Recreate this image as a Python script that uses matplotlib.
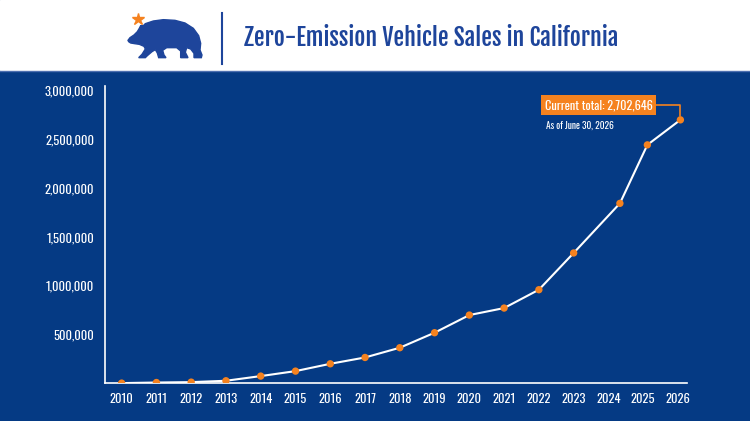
import matplotlib
matplotlib.use('Agg')
import matplotlib.pyplot as plt
from matplotlib.patches import Polygon, Rectangle
from matplotlib.ticker import FuncFormatter

# cumulative ZEV sales
years = [2010, 2011, 2012, 2013, 2014, 2015, 2016, 2017, 2018,
         2019, 2020, 2021, 2022, 2023, 2024, 2025, 2026]
# the last few points sit a bit right of their year label
point_x = [2010, 2011, 2012, 2013, 2014, 2015, 2016, 2017, 2018,
           2019, 2020, 2021, 2022, 2023, 2024.33, 2025.12, 2026.07]
sales = [2000, 8000, 12000, 26000, 74000, 125000, 200000, 265000, 365000,
         519000, 700000, 772000, 960000, 1337000, 1846000, 2446000, 2702646]
y_ticks = [500000, 1000000, 1500000, 2000000, 2500000, 3000000]

title = 'Zero-Emission Vehicle Sales in California'
callout = 'Current total: 2,702,646'
as_of = 'As of June 30, 2026'

navy = '#053a84'
blue = '#1e459b'
orange = '#f5821f'
font = ['Oswald', 'Fira Sans Extra Condensed', 'DejaVu Sans']
title_font = ['Fjalla One', 'Oswald', 'DejaVu Sans']

W, H = 750, 421
fig = plt.figure(figsize=(7.5, 4.21), dpi=100, facecolor=navy)

# white header band
hdr = fig.add_axes([0, 0, 1, 1])
hdr.set_xlim(0, W)
hdr.set_ylim(H, 0)
hdr.axis('off')
hdr.add_patch(Rectangle((0, 0), W, 70, color='white'))
hdr.plot([0, W], [70.5, 70.5], color='#4d6fb0', lw=1)
hdr.plot([222, 222], [13, 64], color=blue, lw=1.5)

# bear silhouette (coords traced on a 3x zoom of the logo)
bear_z = [(24, 106), (30, 98), (42, 90), (52, 80), (58, 70), (62, 62), (70, 62),
          (76, 56), (100, 48), (130, 44), (165, 46), (195, 54), (220, 70), (236, 92),
          (242, 115), (240, 135), (246, 150), (244, 158), (222, 158), (222, 145),
          (212, 132), (200, 128), (196, 142), (204, 158), (182, 158), (182, 138),
          (170, 128), (140, 128), (128, 136), (132, 150), (138, 158), (116, 158),
          (112, 144), (106, 134), (96, 140), (82, 152), (76, 158), (56, 158),
          (66, 148), (76, 132), (72, 124), (58, 118), (44, 116), (32, 114), (26, 110)]
bear = [(120 + zx / 3, 5 + zy / 3) for zx, zy in bear_z]
hdr.add_patch(Polygon(bear, closed=True, color=blue))
hdr.plot(137.7, 19, marker='*', color=orange, markersize=9)

hdr.text(244, 38, title, fontsize=17.2, family=title_font,
         color=blue, va='center', ha='left')

# main chart
ax = fig.add_axes([105.3 / W, 1 - 383.3 / H, (687 - 105.3) / W, (383.3 - 86) / H])
ax.set_facecolor(navy)
ax.plot(point_x, sales, color='white', lw=1.5, zorder=2)
ax.scatter(point_x, sales, color=orange, s=28, zorder=3, edgecolors='none')

ax.set_xlim(2009.53, 2026.26)
ax.set_ylim(0, 3050000)
ax.set_xticks(years)
ax.set_yticks(y_ticks)
ax.yaxis.set_major_formatter(FuncFormatter(lambda v, p: f'{int(v):,}'))
ax.tick_params(length=0, colors='white', labelsize=9, pad=7)
ax.tick_params(axis='y', pad=8)
for lab in ax.get_xticklabels() + ax.get_yticklabels():
    lab.set_family(font)
for side in ['top', 'right']:
    ax.spines[side].set_visible(False)
for side in ['left', 'bottom']:
    ax.spines[side].set_color('white')
    ax.spines[side].set_linewidth(1.2)

# callout for the latest total
last_x, last_y = point_x[-1], sales[-1]
ax.annotate(callout, xy=(last_x, last_y), xycoords='data',
            xytext=(545 / W, 1 - 105 / H), textcoords='figure fraction',
            fontsize=8.8, family=font, color='white', va='center', ha='left',
            bbox=dict(boxstyle='square,pad=0.3', fc=orange, ec='none'),
            arrowprops=dict(arrowstyle='-', color=orange, lw=1.2,
                            connectionstyle='angle,angleA=0,angleB=90,rad=0',
                            shrinkA=0, shrinkB=3))
fig.text(546 / W, 1 - 126 / H, as_of, fontsize=6.8, family=font, color='white',
         va='center', ha='left')

fig.savefig('out.png', dpi=100, facecolor=navy)
